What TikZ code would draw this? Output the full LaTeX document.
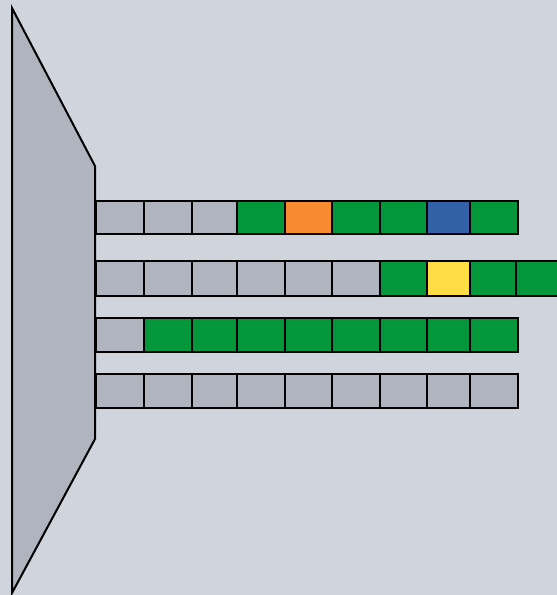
\documentclass[tikz,border=0pt]{standalone}
\usepackage{tikz}
\definecolor{bgcol}{HTML}{D0D4DC}
\definecolor{slab}{HTML}{B0B4BF}
\definecolor{grn}{HTML}{03963A}
\definecolor{org}{HTML}{F68B2F}
\definecolor{blu}{HTML}{3261A8}
\definecolor{yel}{HTML}{FFDD44}
\begin{document}
\begin{tikzpicture}[x=1pt, y=-1pt, cell/.style={draw=black, line width=2pt}]
        \fill[bgcol] (0,0) rectangle (557,595);
        \useasboundingbox (0,0) rectangle (557,595);
        % left wedge
        \draw[fill=slab, line width=2pt, line join=miter] (12,8) -- (95,166) -- (95,439) -- (12,593) -- cycle;
        % row 1
        \foreach \xa/\xb/\c in {96/144/slab, 144/192/slab, 192/237/slab, 237/285/grn, 285/332/org, 332/380/grn, 380/427/grn, 427/470/blu, 470/518/grn}
            \draw[cell, fill=\c] (\xa,201) rectangle (\xb,234);
        % row 2
        \foreach \xa/\xb/\c in {96/144/slab, 144/192/slab, 192/237/slab, 237/285/slab, 285/332/slab, 332/380/slab, 380/427/grn, 427/470/yel, 470/516/grn, 516/562/grn}
            \draw[cell, fill=\c] (\xa,261) rectangle (\xb,296);
        % row 3
        \foreach \xa/\xb/\c in {96/144/slab, 144/192/grn, 192/237/grn, 237/285/grn, 285/332/grn, 332/380/grn, 380/427/grn, 427/470/grn, 470/518/grn}
            \draw[cell, fill=\c] (\xa,318) rectangle (\xb,352);
        % row 4
        \foreach \xa/\xb in {96/144, 144/192, 192/237, 237/285, 285/332, 332/380, 380/427, 427/470, 470/518}
            \draw[cell, fill=slab] (\xa,374) rectangle (\xb,408);
    \end{tikzpicture}
\end{document}
